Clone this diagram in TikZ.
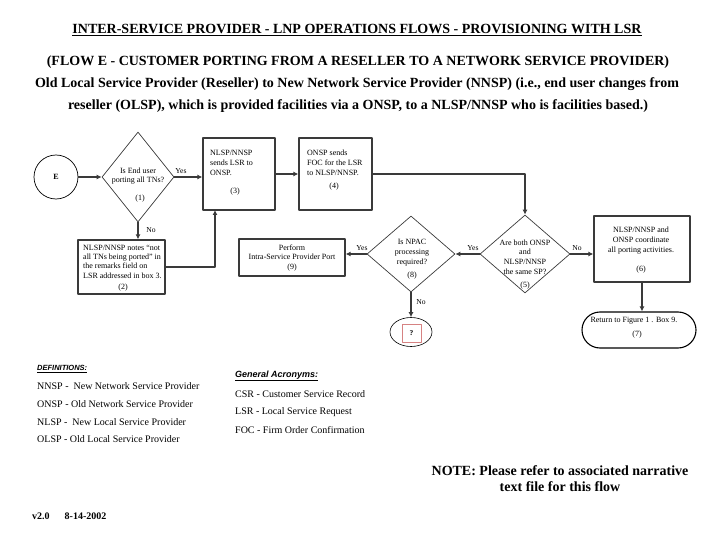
\documentclass[tikz,border=0pt]{standalone}
\usepackage{fontspec}
\setmainfont{Liberation Serif}
\newfontfamily\defsans{Liberation Sans}
\usetikzlibrary{shapes.geometric,arrows.meta}

\definecolor{boxgray}{RGB}{58,58,58}
\definecolor{qred}{RGB}{214,130,130}

\tikzset{
  head/.style={font=\fontsize{14}{16}\selectfont\bfseries, inner sep=0pt},
  procbox/.style={draw=boxgray, line width=1.3pt, rectangle, inner sep=0pt},
  decision/.style={draw=boxgray, line width=0.7pt, diamond, inner sep=0pt},
  arr/.style={draw=boxgray, line width=1.3pt, -{Latex[length=5pt,width=5pt]}},
  ftext/.style={font=\fontsize{8}{9.8}\selectfont, inner sep=0pt},
  lbl/.style={font=\fontsize{7.6}{8}\selectfont, inner sep=0pt},
  deftext/.style={font=\fontsize{10}{12}\selectfont, inner sep=0pt, anchor=west}
}

\begin{document}
\begin{tikzpicture}[x=1pt,y=-1pt,line cap=round,line join=round]
\useasboundingbox (0,0) rectangle (720,540);

% headings
\node[head] (title) at (357,30) {\underline{INTER-SERVICE PROVIDER - LNP OPERATIONS FLOWS - PROVISIONING WITH LSR}};
\node[head] (sub1) at (358,62) {(FLOW E - CUSTOMER PORTING FROM A RESELLER TO A NETWORK SERVICE PROVIDER)};
\node[head] (sub2) at (357,84) {Old Local Service Provider (Reseller) to New Network Service Provider (NNSP) (i.e., end user changes from};
\node[head] (sub3) at (358,106) {reseller (OLSP), which is provided facilities via a ONSP, to a NLSP/NNSP who is facilities based.)};

% start circle and first decision
\node[circle, draw, line width=0.7pt, minimum size=44pt, inner sep=0pt,
      font=\fontsize{8}{9}\selectfont\bfseries] (E) at (56,177) {E};
\node[decision, minimum width=72pt, minimum height=90pt] (d1) at (138,177) {};
\node[ftext, align=center] (t1) at (138,176) {Is End user\\porting all TNs?};
\node[ftext] (n1) at (140,199) {(1)};

% boxes of the upper row
\node[procbox, minimum width=72pt, minimum height=72pt] (b3) at (239,174) {};
\node[ftext, align=left, anchor=west] (t3) at (210,163) {NLSP/NNSP\\sends LSR to\\ONSP.};
\node[ftext] (n3) at (235,192) {(3)};

\node[procbox, minimum width=73pt, minimum height=72pt] (b4) at (335.5,174) {};
\node[ftext, align=left, anchor=west] (t4) at (307,163) {ONSP sends\\FOC for the LSR\\to NLSP/NNSP.};
\node[ftext] (n4) at (334,187) {(4)};

% box 2 below the first decision
\node[procbox, minimum width=87pt, minimum height=54pt] (b2) at (121.5,267) {};
\node[ftext, align=left, anchor=west, font=\fontsize{8}{9.4}\selectfont] (t2) at (83,261.5) {NLSP/NNSP notes ``not\\all TNs being ported'' in\\the remarks field on\\LSR addressed in box 3.};
\node[ftext] (n2) at (123,287.5) {(2)};

% decisions 5 and 8
\node[decision, minimum width=90pt, minimum height=78pt] (d5) at (525,254) {};
\node[ftext, align=center] (t5) at (525,257) {Are both ONSP\\and\\NLSP/NNSP\\the same SP?};
\node[ftext] (n5) at (525,286) {(5)};

\node[decision, minimum width=88pt, minimum height=76pt] (d8) at (411,254) {};
\node[ftext, align=center] (t8) at (412,253) {Is NPAC\\processing\\required?};
\node[ftext] (n8) at (412,276) {(8)};

% box 9, box 6 and the end nodes
\node[procbox, minimum width=106pt, minimum height=37pt] (b9) at (292,257.5) {};
\node[ftext, align=center] (t9) at (292,258) {Perform\\Intra-Service Provider Port\\(9)};

\node[procbox, minimum width=96pt, minimum height=66pt] (b6) at (642,249) {};
\node[ftext, align=center] (t6) at (641,240.5) {NLSP/NNSP and\\ONSP coordinate\\all porting activities.};
\node[ftext] (n6) at (641,270) {(6)};

\node[draw, line width=1.1pt, rectangle, rounded corners=18pt,
      minimum width=114pt, minimum height=36pt, inner sep=0pt] (n7) at (639,330) {};
\node[ftext] (t7) at (634,321) {Return to Figure 1 . Box 9.};
\node[ftext] (r7) at (637,335) {(7)};

\node[ellipse, draw, line width=0.6pt, minimum width=42pt, minimum height=29pt, inner sep=0pt] (q) at (411,332) {};
\node[draw=qred, line width=0.6pt, minimum width=19pt, minimum height=18pt, inner sep=0pt,
      font=\fontsize{7.5}{8}\selectfont\bfseries] (qbox) at (411.5,333) {?};

% connectors
\draw[arr] (E) -- (d1);
\draw[arr] (d1.east) -- (d1.east -| b3.west);
\draw[arr] (d1.south) -- (d1.south |- b2.north);
\coordinate (up3) at (215,210);
\draw[arr] (b2.east) -| (up3);
\draw[arr] (b3) -- (b4);
\draw[arr] (b4.east) -| (d5.north);
\draw[arr] (d5.west) -- (d8.east);
\draw[arr] (d8.west) -- (d8.west -| b9.east);
\draw[arr] (d5.east) -- (d5.east -| b6.west);
\draw[arr] (b6.south) -- (b6.south |- n7.north);
\draw[arr] (d8.south) -- (q.north);

% branch labels
\node[lbl] (y1) at (181,171) {Yes};
\node[lbl] (no1) at (151,230) {No};
\node[lbl] (y8) at (362,248) {Yes};
\node[lbl] (y5) at (473,248) {Yes};
\node[lbl] (no5) at (577,248) {No};
\node[lbl] (no8) at (421,302) {No};

% definitions
\node[inner sep=0pt, anchor=west, font=\defsans\fontsize{7.5}{9}\selectfont\bfseries\itshape] (defh) at (37,369) {\underline{DEFINITIONS:}};
\node[deftext] (def1) at (37,386) {NNSP -\ \ New Network Service Provider};
\node[deftext] (def2) at (37,404) {ONSP - Old Network Service Provider};
\node[deftext] (def3) at (37,422) {NLSP -\ \ New Local Service Provider};
\node[deftext] (def4) at (37,439) {OLSP - Old Local Service Provider};

% acronyms
\node[inner sep=0pt, anchor=west, font=\defsans\fontsize{9}{10}\selectfont\bfseries\itshape] (acrh) at (235,376) {\underline{General Acronyms:}};
\node[deftext] (acr1) at (235,394) {CSR - Customer Service Record};
\node[deftext] (acr2) at (235,412) {LSR - Local Service Request};
\node[deftext] (acr3) at (235,430) {FOC - Firm Order Confirmation};

% note and version
\node[head, align=center, font=\fontsize{14}{16}\selectfont\bfseries] (note) at (560,479) {NOTE: Please refer to associated narrative\\text file for this flow};
\node[inner sep=0pt, anchor=west, font=\fontsize{10}{12}\selectfont\bfseries] (ver) at (32,516) {v2.0\hspace{15pt}8-14-2002};

\end{tikzpicture}
\end{document}
